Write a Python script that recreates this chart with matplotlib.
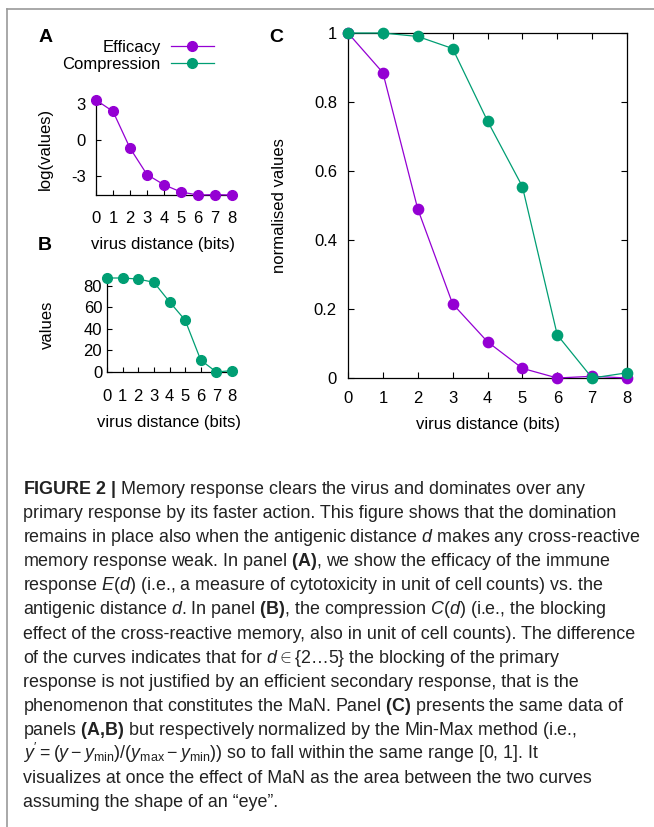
import numpy as np
import matplotlib
matplotlib.use("Agg")
import matplotlib.pyplot as plt
from matplotlib.lines import Line2D
from matplotlib.ticker import FuncFormatter

plt.rcParams['font.family'] = ['Liberation Sans', 'DejaVu Sans']
plt.rcParams['axes.unicode_minus'] = False
plt.rcParams['mathtext.fontset'] = 'custom'
plt.rcParams['mathtext.rm'] = 'Liberation Sans'
plt.rcParams['mathtext.it'] = 'Liberation Sans:italic'
plt.rcParams['mathtext.bf'] = 'Liberation Sans:bold'

# data
distance = np.arange(9)
efficacy_log = [3.35, 2.4, -0.65, -2.85, -3.7, -4.3, -4.55, -4.52, -4.55]
compression = [87, 87, 86, 83, 65, 48, 11, 0, 1.3]
efficacy_norm = [1.0, 0.885, 0.49, 0.215, 0.105, 0.028, 0.0, 0.005, 0.0]
compression_norm = [1.0, 1.0, 0.99, 0.955, 0.745, 0.555, 0.125, 0.0, 0.015]

xticks = list(range(9))
a_yticks = [-3, 0, 3]
b_yticks = [0, 20, 40, 60, 80]
c_yticks = [0, 0.2, 0.4, 0.6, 0.8, 1]

caption_lines = [
    r"$\mathbf{FIGURE\ 2\ |}$ Memory response clears the virus and dominates over any",
    "primary response by its faster action. This figure shows that the domination",
    "remains in place also when the antigenic distance $d$ makes any cross-reactive",
    r"memory response weak. In panel $\mathbf{(A)}$, we show the efficacy of the immune",
    "response $E$($d$) (i.e., a measure of cytotoxicity in unit of cell counts) vs. the",
    r"antigenic distance $d$. In panel $\mathbf{(B)}$, the compression $C$($d$) (i.e., the blocking",
    "effect of the cross-reactive memory, also in unit of cell counts). The difference",
    r"of the curves indicates that for $d \in \{2\ldots5\}$ the blocking of the primary",
    "response is not justified by an efficient secondary response, that is the",
    r"phenomenon that constitutes the MaN. Panel $\mathbf{(C)}$ presents the same data of",
    r"panels $\mathbf{(A,\!B)}$ but respectively normalized by the Min-Max method (i.e.,",
    r"$y^{\prime} = (y - y_{\mathrm{min}})/(y_{\mathrm{max}} - y_{\mathrm{min}})$) so to fall within the same range [0, 1]. It",
    "visualizes at once the effect of MaN as the area between the two curves",
    "assuming the shape of an \u201ceye\u201d.",
]

purple = '#9400d3'
green = '#009e73'

W, H = 654, 827


def fx(x):
    return x / W


def fy(y):
    return 1 - y / H


def box(x0, y0, x1, y1):
    return [fx(x0), fy(y1), fx(x1) - fx(x0), fy(y0) - fy(y1)]


fig = plt.figure(figsize=(W / 100, H / 100), dpi=100)

# panel A
axA = fig.add_axes(box(96, 100, 232, 195))
axA.plot(distance, efficacy_log, color=purple, lw=0.9, marker='o', ms=7, clip_on=False, zorder=3)
axA.set_xlim(0, 8)
axA.set_ylim(-4.55, 3.35)
axA.set_xticks(xticks)
axA.set_yticks(a_yticks)
for s in ['top', 'right']:
    axA.spines[s].set_visible(False)
axA.tick_params(axis='x', direction='in', length=3.5, labelsize=12, pad=11.5)
axA.tick_params(axis='y', direction='in', length=3.5, labelsize=12, pad=7.5)

# panel B
axB = fig.add_axes(box(107, 278, 232, 372))
axB.plot(distance, compression, color=green, lw=0.9, marker='o', ms=7, clip_on=False, zorder=3)
axB.set_xlim(0, 8)
axB.set_ylim(0, 87)
axB.set_xticks(xticks)
axB.set_yticks(b_yticks)
for s in ['top', 'right']:
    axB.spines[s].set_visible(False)
axB.tick_params(axis='x', direction='in', length=3.5, labelsize=12, pad=12)
axB.tick_params(axis='y', direction='in', length=3.5, labelsize=12, pad=3.5)

# panel C
axC = fig.add_axes(box(348, 33, 627, 378))
axC.plot(distance, efficacy_norm, color=purple, lw=0.9, marker='o', ms=7.4, clip_on=False, zorder=3)
axC.plot(distance, compression_norm, color=green, lw=0.9, marker='o', ms=7.4, clip_on=False, zorder=3)
axC.set_xlim(0, 8)
axC.set_ylim(0, 1)
axC.set_xticks(xticks)
axC.set_yticks(c_yticks)
axC.yaxis.set_major_formatter(FuncFormatter(lambda v, p: f"{v:g}"))
axC.tick_params(direction='in', top=True, right=True, length=4, labelsize=12)
axC.tick_params(axis='x', pad=9.5)
axC.tick_params(axis='y', pad=8)

for ax in (axA, axB, axC):
    for s in ax.spines.values():
        s.set_linewidth(0.9)

# axis labels
fig.text(fx(45), fy(149), "log(values)", rotation=90, ha='center', va='center', fontsize=12)
fig.text(fx(163), fy(244), "virus distance (bits)", ha='center', va='center', fontsize=12)
fig.text(fx(47), fy(325), "values", rotation=90, ha='center', va='center', fontsize=12)
fig.text(fx(169), fy(422), "virus distance (bits)", ha='center', va='center', fontsize=12)
fig.text(fx(280), fy(206), "normalised values", rotation=90, ha='center', va='center', fontsize=12)
fig.text(fx(488), fy(424), "virus distance (bits)", ha='center', va='center', fontsize=12)

# panel letters
fig.text(fx(46), fy(37), "A", ha='center', va='center', fontsize=14, fontweight='bold')
fig.text(fx(45), fy(246), "B", ha='center', va='center', fontsize=14, fontweight='bold')
fig.text(fx(276), fy(37), "C", ha='center', va='center', fontsize=14, fontweight='bold')

# legend
handles = [Line2D([], [], color=purple, lw=0.9, marker='o', ms=7),
           Line2D([], [], color=green, lw=0.9, marker='o', ms=7)]
fig.legend(handles, ['Efficacy', 'Compression'], loc='upper right',
           bbox_to_anchor=(fx(214), fy(40)), bbox_transform=fig.transFigure,
           frameon=False, markerfirst=False, borderpad=0, borderaxespad=0,
           handlelength=2.6, handletextpad=0.6, labelspacing=0.1, fontsize=12)

# caption
for i, line in enumerate(caption_lines):
    fig.text(fx(23), fy(494 + i * 24.1), line, ha='left', va='baseline', fontsize=12.9, color='#222222')

# frame lines
fig.add_artist(Line2D([fx(7), fx(7)], [fy(9), 0], transform=fig.transFigure, color='#9a9a9a', lw=1.2))
fig.add_artist(Line2D([fx(7), 1], [fy(9), fy(9)], transform=fig.transFigure, color='#9a9a9a', lw=1.2))

fig.savefig('out.png', dpi=100)
